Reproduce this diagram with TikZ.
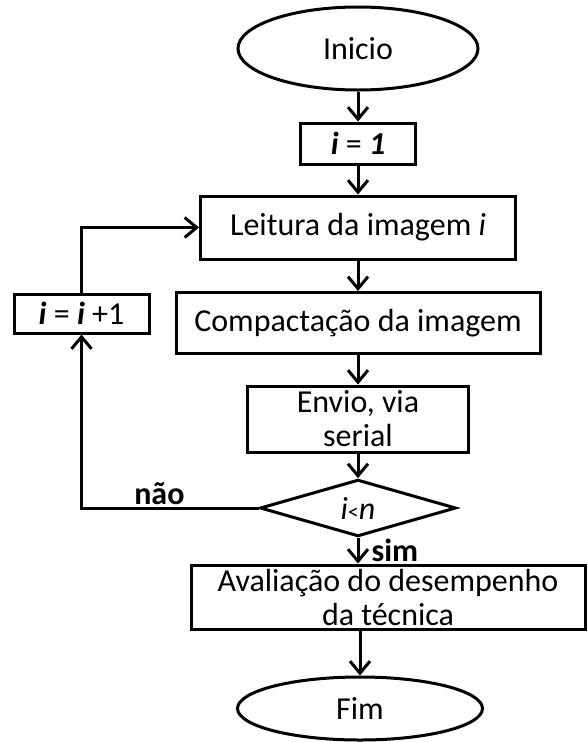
\documentclass[tikz,border=0pt]{standalone}
\usepackage{fontspec}
\setmainfont{Carlito}
\usetikzlibrary{shapes.geometric}
\usetikzlibrary{arrows.meta}
\tikzstyle{block} = [rectangle, draw, line width=3pt, 
    text centered, align=center, inner sep=2pt]
\tikzstyle{terminal} = [ellipse, draw, line width=3pt, inner sep=0pt]
\tikzstyle{decision} = [diamond, draw, line width=3pt, inner sep=0pt]
\tikzstyle{line} = [draw, line width=3pt, -{Straight Barb[length=12pt,width=20pt]}]
\tikzstyle{answer} = [font=\fontsize{32pt}{35pt}\selectfont\bfseries, inner sep=2pt]

\begin{document}
\begin{tikzpicture}[every node/.style={font=\fontsize{32pt}{34pt}\selectfont}]
    \useasboundingbox (0,0) rectangle (587pt,-742pt);
    % Place nodes
    \node [terminal, minimum width=240pt, minimum height=83pt] (inicio) at (358pt,-48.5pt) {Inicio};
    \node [block, below of=inicio, node distance=95pt, minimum width=115pt, minimum height=41pt] (init) {{\bfseries\itshape i} = {\bfseries\itshape 1}};
    \node [block, below of=init, node distance=84pt, minimum width=315pt, minimum height=63pt] (leitura) {Leitura da imagem {\itshape i}};
    \node [block, below of=leitura, node distance=95.5pt, minimum width=364pt, minimum height=61pt] (compact) {Compactação da imagem};
    \node [block, below of=compact, node distance=96pt, minimum width=221pt, minimum height=66pt] (envio) {Envio, via\\serial};
    \node [decision, below of=envio, node distance=89pt, minimum width=196pt, minimum height=50pt] (decisao) {{\itshape i}{\fontsize{22pt}{22pt}\selectfont<}{\itshape n}};
    \node [block, below of=decisao, node distance=89pt, xshift=30pt, minimum width=394pt, minimum height=64pt] (aval) {Avaliação do desempenho\\da técnica};
    \node [terminal, below of=aval, node distance=111.5pt, xshift=-28pt, minimum width=245pt, minimum height=63pt] (fim) {Fim};

    \node [block, minimum width=135pt, minimum height=39pt] (incr) at (81.5pt,-313.5pt) {{\bfseries\itshape i} = {\bfseries\itshape i} +1};

    % Draw edges
    \path [line] (inicio) -- (init);
    \path [line] (init) -- (leitura);
    \path [line] (leitura) -- (compact);
    \path [line] (compact) -- (envio);
    \path [line] (envio) -- (decisao);
    \path [line] (decisao) -- node[answer, right, pos=.5, xshift=10pt] {sim} (decisao.south |- aval.north);
    \path [line] (aval.south -| fim.north) -- (fim);

    \path [line] (decisao.west) -| node[answer, above, pos=.28] {não} (incr.south);
    \path [line] (incr.north) |- (leitura.west);
\end{tikzpicture}
\end{document}
